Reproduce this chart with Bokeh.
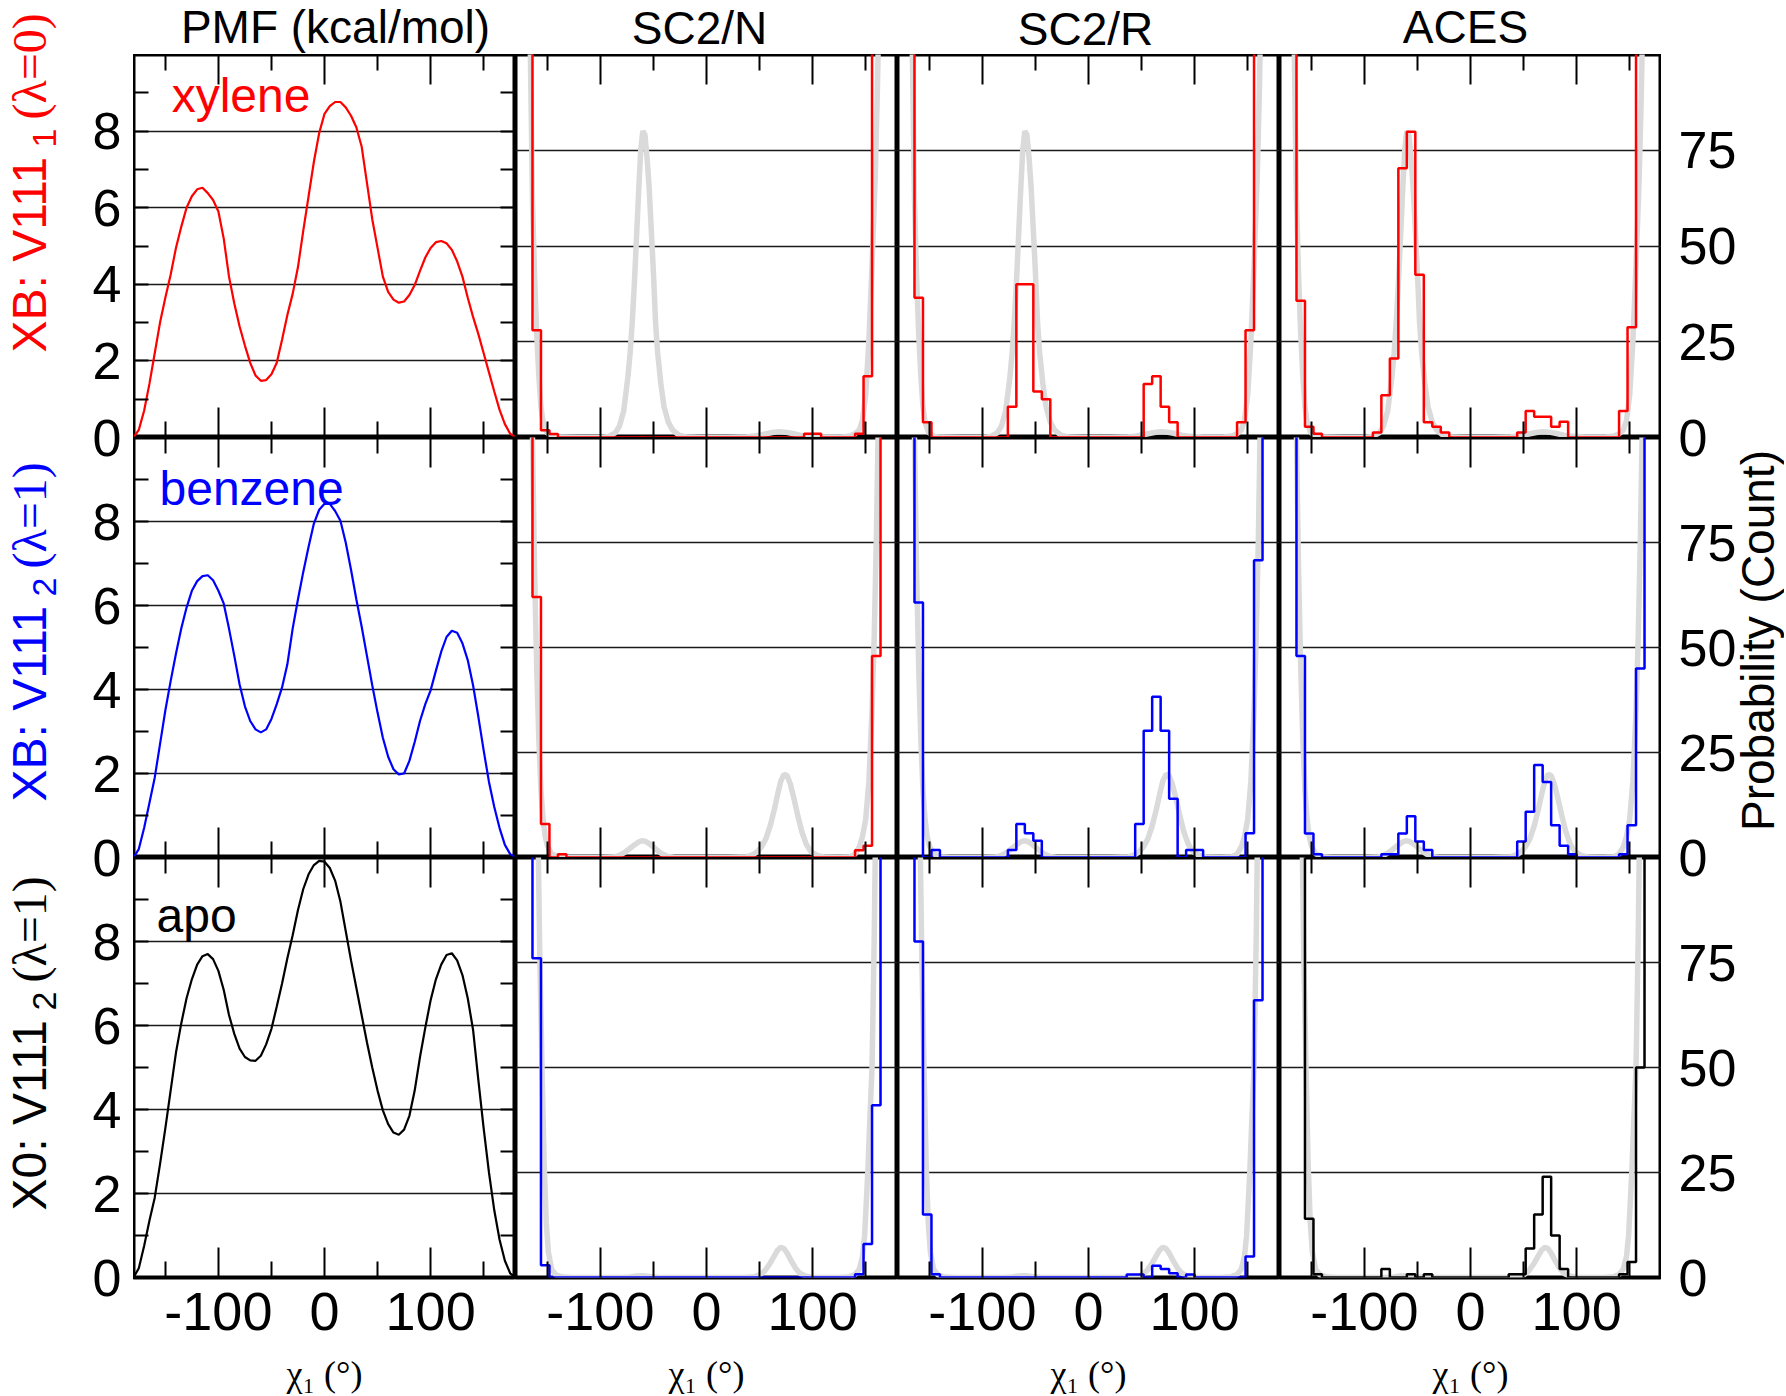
import math
from bokeh.plotting import figure
from bokeh.models import LinearAxis, FixedTicker, Grid, Label, Range1d
from bokeh.layouts import row, column
from bokeh.embed import file_html
from bokeh.resources import INLINE

# ---------------- data ----------------
chi_deg = list(range(-180, 181, 5))

pmf_xylene = [0.00, 0.20, 0.70, 1.40, 2.20, 3.00, 3.65, 4.25, 4.95, 5.50, 6.00, 6.30, 6.48,
              6.52, 6.38, 6.20, 5.90, 5.20, 4.20, 3.50, 2.90, 2.40, 1.95, 1.62, 1.48, 1.50,
              1.65, 1.95, 2.55, 3.20, 3.75, 4.45, 5.40, 6.30, 7.20, 7.95, 8.45, 8.65, 8.76,
              8.76, 8.62, 8.40, 8.10, 7.60, 6.65, 5.70, 4.95, 4.20, 3.80, 3.60, 3.52, 3.55,
              3.72, 3.98, 4.35, 4.70, 4.95, 5.10, 5.13, 5.07, 4.90, 4.60, 4.20, 3.65, 3.15,
              2.70, 2.20, 1.70, 1.20, 0.72, 0.35, 0.10, 0.00]
pmf_benzene = [0.00, 0.20, 0.70, 1.30, 1.90, 2.70, 3.50, 4.20, 4.85, 5.45, 5.95, 6.35, 6.58,
               6.70, 6.72, 6.60, 6.35, 6.05, 5.45, 4.80, 4.12, 3.60, 3.25, 3.05, 2.98, 3.05,
               3.30, 3.65, 4.05, 4.60, 5.45, 6.15, 6.80, 7.40, 7.95, 8.28, 8.42, 8.42, 8.25,
               8.02, 7.50, 6.85, 6.15, 5.50, 4.80, 4.10, 3.45, 2.85, 2.40, 2.10, 1.98, 2.00,
               2.30, 2.75, 3.25, 3.65, 3.98, 4.45, 4.90, 5.25, 5.40, 5.35, 5.10, 4.70, 4.10,
               3.35, 2.55, 1.80, 1.20, 0.70, 0.30, 0.08, 0.00]
pmf_apo = [0.00, 0.22, 0.75, 1.35, 1.90, 2.70, 3.55, 4.45, 5.35, 6.05, 6.65, 7.10, 7.45,
           7.65, 7.70, 7.58, 7.30, 6.85, 6.25, 5.80, 5.45, 5.25, 5.17, 5.16, 5.28, 5.55,
           5.92, 6.45, 7.00, 7.60, 8.15, 8.75, 9.25, 9.60, 9.82, 9.92, 9.90, 9.75, 9.45,
           8.95, 8.25, 7.55, 6.90, 6.25, 5.60, 5.00, 4.45, 3.98, 3.65, 3.45, 3.40, 3.52,
           3.85, 4.45, 5.25, 5.95, 6.60, 7.10, 7.45, 7.68, 7.72, 7.55, 7.20, 6.65, 5.90,
           4.70, 3.55, 2.50, 1.60, 0.90, 0.40, 0.10, 0.00]

# reference distributions (light grey curves), counts
ref1_x = [-180, -175, -171, -168, -166, -164, -162, -160, -158, -156, -154, -151, -147, -140,
          -120, -100, -92, -86, -82, -78, -74, -72, -70, -68, -66, -64, -62, -60, -58, -56,
          -54, -52, -50, -48, -46, -43, -40, -36, -32, -26, -18, -5, 20, 35, 45, 55, 62, 68,
          74, 80, 88, 96, 108, 125, 135, 140, 144, 147, 150, 153, 156, 159, 161, 163, 166,
          170, 175, 180]
ref1_y = [900, 600, 330, 160, 100, 62, 42, 27, 16, 8, 4, 1.5, 0.4, 0.1,
          0, 0, 0.3, 1.2, 3, 7, 16, 22, 30, 40, 52, 64, 75, 80, 79, 73,
          65, 54, 43, 30, 22, 14, 8, 4, 2, 0.6, 0.1, 0, 0, 0.1, 0.4, 0.9, 1.3, 1.5,
          1.4, 1.1, 0.6, 0.3, 0.1, 0.1, 0.4, 1, 2, 4.5, 11, 25, 45, 68, 90, 120, 200,
          350, 600, 900]
ref2_x = [-180, -175, -170, -166, -164, -162, -160, -158, -156, -154, -152, -150, -146, -140,
          -130, -100, -88, -82, -77, -72, -68, -64, -61, -58, -54, -50, -46, -42, -37, -30,
          20, 38, 44, 48, 52, 56, 60, 64, 67, 70, 73, 76, 79, 82, 86, 90, 94, 98, 104, 112,
          125, 135, 140, 144, 147, 150, 153, 156, 158, 160, 162, 166, 170, 180]
ref2_y = [540, 400, 250, 140, 100, 68, 45, 28, 16, 9, 5, 2.8, 0.9, 0.2,
          0, 0, 0.1, 0.5, 1.2, 2.2, 3.0, 3.7, 4.0, 3.9, 3.3, 2.5, 1.6, 0.9, 0.3, 0,
          0, 0.2, 0.7, 1.4, 2.6, 4.5, 7.5, 11.5, 15, 18.2, 19.8, 19.5, 17.5, 14.5, 10, 6, 3.2, 1.5, 0.5, 0.1,
          0.05, 0.2, 0.8, 2.5, 5, 9, 18, 35, 52, 75, 105, 190, 300, 540]
ref3_x = [-180, -170, -165, -162, -159, -157, -155, -153, -151, -149, -146, -142, -135, -125,
          -80, -72, -66, -60, -54, -46, -30, 35, 45, 50, 55, 60, 64, 67, 70, 73, 76, 80, 84,
          88, 93, 100, 115, 125, 135, 140, 144, 147, 149, 152, 154, 156, 158, 160, 165, 170, 180]
ref3_y = [2100, 700, 330, 200, 110, 75, 50, 27, 13, 6, 2, 0.6, 0.1, 0,
          0, 0.1, 0.35, 0.4, 0.25, 0.05, 0, 0, 0.2, 0.6, 1.6, 3.4, 5.2, 6.5, 7.2, 6.9, 5.8, 3.9, 2.2,
          1.0, 0.35, 0.05, 0, 0, 0.2, 0.7, 2, 5, 10, 25, 38, 50, 80, 120, 300, 700, 2100]

# histograms: 45 bins of 8 degrees from -180 (counts; end bins run off scale)
bin_edges = list(range(-180, 181, 8))

hist_sc2n_1 = [250, 160, 28, 1.9, 0.9, 0, 0, 0, 0,
               0, 0, 0, 0, 0, 0, 0, 0, 0,
               0, 0, 0, 0, 0, 0, 0, 0, 0,
               0, 0, 0, 0, 0, 0, 0, 1, 1,
               0, 0, 0, 0, 1, 16, 140, 220, 230]
hist_sc2r_1 = [230, 150, 36.5, 4, 0, 0, 0, 0, 0,
               0, 0, 0, 0, 8, 40, 40, 12, 10,
               0, 0, 0, 0, 0, 0, 0, 0, 0,
               0, 0, 14, 16, 8, 4, 0, 0, 0,
               0, 0, 0, 0, 4, 28, 130, 180, 200]
hist_aces_1 = [220, 150, 35.7, 2.8, 1, 0, 0, 0, 0,
               0, 0, 1.3, 11, 20.6, 70.3, 79.8, 42.5, 4,
               2.8, 1.3, 0, 0, 0, 0, 0, 0, 0,
               0, 1.3, 6.9, 5.4, 5.4, 2.8, 4.1, 0, 0,
               0, 0, 0, 0, 6.9, 28.8, 130, 170, 200]
hist_sc2n_2 = [260, 170, 62, 8, 0, 0.8, 0, 0, 0,
               0, 0, 0, 0, 0, 0, 0, 0, 0,
               0, 0, 0, 0, 0, 0, 0, 0, 0,
               0, 0, 0, 0, 0, 0, 0, 0, 0,
               0, 0, 0, 0, 1.7, 2.8, 48, 200, 240]
hist_sc2r_2 = [230, 160, 60.7, 0, 1.8, 0, 0, 0, 0,
               0, 0, 0, 0, 1.8, 8, 5.8, 4, 0,
               0, 0, 0, 0, 0, 0, 0, 0, 0,
               0, 8, 30.2, 38.3, 30.2, 14, 0, 1.8, 1.8,
               0, 0, 0, 0, 0, 5.8, 70.8, 170, 200]
hist_aces_2 = [230, 160, 48, 5.7, 0.8, 0, 0, 0, 0,
               0, 0, 0, 0.8, 0.8, 5.7, 9.8, 3.8, 1.8,
               0, 0, 0, 0, 0, 0, 0, 0, 0,
               0, 3.8, 10.9, 22, 18, 7.7, 2.8, 0.8, 0,
               0, 0, 0, 0, 0.8, 7.7, 45, 180, 220]
hist_sc2n_3 = [270, 170, 76, 2.9, 0, 0, 0, 0, 0,
               0, 0, 0, 0, 0, 0, 0, 0, 0,
               0, 0, 0, 0, 0, 0, 0, 0, 0,
               0, 0, 0, 0, 0, 0, 0, 0, 0,
               0, 0, 0, 0, 0.8, 8, 41, 200, 230]
hist_sc2r_3 = [240, 150, 80, 15, 0.8, 0, 0, 0, 0,
               0, 0, 0, 0, 0, 0, 0, 0, 0,
               0, 0, 0, 0, 0, 0, 0, 0, 0,
               0.7, 0.7, 0, 2.8, 2.0, 1.0, 0, 0.7, 0,
               0, 0, 0, 0, 0, 5, 66, 180, 220]
hist_aces_3 = [300, 200, 150, 14, 0.8, 0, 0, 0, 0,
               0, 0, 0, 2, 0, 0, 0.8, 0, 0.8,
               0, 0, 0, 0, 0, 0, 0, 0, 0,
               0.8, 0.8, 6.9, 15, 24, 10, 2, 0, 0,
               0, 0, 0, 0, 0.8, 3.7, 50, 200, 250]

col_titles = ["PMF (kcal/mol)", "SC2/N", "SC2/R", "ACES"]
row_names = ["xylene", "benzene", "apo"]
row_colors = ["red", "blue", "black"]
row_label_main = ["XB: V111", "XB: V111", "X0: V111"]
row_label_sub = ["1", "2", "2"]
row_label_state = ["(λ=0)", "(λ=1)", "(λ=1)"]
x_label_text = "χ₁ (°)"
right_label_text = "Probability (Count)"
x_tick_major = [-100, 0, 100]
x_tick_minor = [-150, -50, 50, 150]
pmf_ticks_major = [0, 2, 4, 6, 8]
pmf_ticks_minor = [1, 3, 5, 7, 9]
count_ticks = [0, 25, 50, 75]

pmf_rows = [pmf_xylene, pmf_benzene, pmf_apo]
ref_rows = [(ref1_x, ref1_y), (ref2_x, ref2_y), (ref3_x, ref3_y)]
hist_rows = [[hist_sc2n_1, hist_sc2r_1, hist_aces_1],
             [hist_sc2n_2, hist_sc2r_2, hist_aces_2],
             [hist_sc2n_3, hist_sc2r_3, hist_aces_3]]
hist_colors = [["red", "red", "red"],
               ["red", "blue", "blue"],
               ["blue", "blue", "black"]]

# ---------------- layout (page pixels) ----------------
PAGE_W, PAGE_H = 1784, 1394
LEFT_W = 133                       # first frame starts at page x = 133
FRAME_W = 382
RIGHT_W = PAGE_W - LEFT_W - 4 * FRAME_W
TOP_H = 54
FRAME_H = [383, 420, 420]
BOTTOM_B = 76
GRID_H = sum(FRAME_H) + BOTTOM_B
BOT_H = PAGE_H - TOP_H - GRID_H
MID_W = 4 * FRAME_W
SANS = "Liberation Sans"
SERIF = "Liberation Serif"
GRID_COLOR = "#1a1a1a"
REF_GREY = "#dadada"
MID = 0.34               # text box centre sits this many em above the baseline

row_tops = [TOP_H, TOP_H + FRAME_H[0], TOP_H + FRAME_H[0] + FRAME_H[1]]
row_bottoms = [t + h for t, h in zip(row_tops, FRAME_H)]

title_pos = [(335, 42), (699, 43), (1085, 44), (1465, 42)]      # centre x, baseline y
name_pos = [(-144, 8.50), (-155.5, 8.39), (-158.3, 8.23)]        # start x, baseline y (data)
row_label_start = [352, 801, 1210]                                # page y where text begins
row_label_base_x = 45
xlabel_centres = [324, 706, 1088, 1470]
xlabel_base_y = 1386
right_label_pos = (1773, 640)


def strip(w, h):
    p = figure(width=w, height=h, x_range=Range1d(0, w), y_range=Range1d(0, h),
               x_axis_location=None, y_axis_location=None, toolbar_location=None,
               output_backend="svg", min_border_left=0, min_border_right=0,
               min_border_top=0, min_border_bottom=0)
    p.grid.visible = False
    p.outline_line_color = None
    p.background_fill_color = "white"
    p.border_fill_color = "white"
    return p


def hidden_labels(ax):
    ax.major_label_text_font_size = "0px"
    ax.major_label_text_color = None
    ax.major_label_standoff = 0


def x_axis(show_labels):
    ax = LinearAxis(ticker=FixedTicker(ticks=x_tick_major, minor_ticks=x_tick_minor),
                    major_tick_in=30, major_tick_out=0, minor_tick_in=16, minor_tick_out=0,
                    major_tick_line_width=2, minor_tick_line_width=2,
                    major_tick_line_color="black", minor_tick_line_color="black",
                    axis_line_color=None)
    if show_labels:
        ax.major_label_text_font = SANS
        ax.major_label_text_font_size = "54px"
        ax.major_label_text_color = "black"
        ax.major_label_standoff = 15
        ax.major_label_overrides = {-100: "-100", 0: "0", 100: "100"}
    else:
        hidden_labels(ax)
    return ax


def pmf_y_ticks():
    ax = LinearAxis(ticker=FixedTicker(ticks=pmf_ticks_major, minor_ticks=pmf_ticks_minor),
                    major_tick_in=15, major_tick_out=0, minor_tick_in=15, minor_tick_out=0,
                    major_tick_line_width=2, minor_tick_line_width=2,
                    axis_line_color=None)
    hidden_labels(ax)
    return ax


def make_panel(r, c):
    ytop = 10 if c == 0 else 100
    h = FRAME_H[r] + (BOTTOM_B if r == 2 else 0)
    p = figure(width=FRAME_W, height=h, x_range=Range1d(-180, 180), y_range=Range1d(0, ytop),
               x_axis_location=None, y_axis_location=None, toolbar_location=None,
               output_backend="svg",
               min_border_left=0, min_border_right=0, min_border_top=0,
               min_border_bottom=BOTTOM_B if r == 2 else 0)
    p.grid.visible = False
    p.outline_line_color = "black"
    p.outline_line_width = 4
    p.background_fill_color = "white"
    p.border_fill_color = "white"

    gticks = [2, 4, 6, 8] if c == 0 else [25, 50, 75]
    p.add_layout(Grid(dimension=1, ticker=FixedTicker(ticks=gticks),
                      grid_line_color=GRID_COLOR, grid_line_width=1.6))

    p.add_layout(x_axis(r == 2), "below")
    p.add_layout(x_axis(False), "above")

    if c == 0:
        p.add_layout(pmf_y_ticks(), "left")
        p.add_layout(pmf_y_ticks(), "right")
        p.line(chi_deg, pmf_rows[r], line_color=row_colors[r], line_width=2.2)
        nx, ny = name_pos[r]
        px_per_unit = FRAME_H[r] / 10.0
        p.add_layout(Label(x=nx, y=ny + MID * 48 / px_per_unit, text=row_names[r],
                           text_color=row_colors[r],
                           text_font=SANS, text_font_size="48px",
                           text_align="left", text_baseline="middle"))
    else:
        rx, ry = ref_rows[r]
        p.line(rx, ry, line_color=REF_GREY, line_width=5.5)
        counts = hist_rows[r][c - 1]
        p.step(bin_edges, counts + [counts[-1]], mode="after",
               line_color=hist_colors[r][c - 1], line_width=2.5)
    return p


def row_range(r, ytop):
    """Range for a full-height strip so that 0..ytop lines up with panel row r."""
    pxu = FRAME_H[r] / ytop
    return Range1d(start=(row_bottoms[r] - PAGE_H) / pxu, end=row_bottoms[r] / pxu)


# ---- left strip (full page height): row labels + PMF tick labels ----
left = strip(LEFT_W, PAGE_H)
left.extra_y_ranges = {f"pmf{r}": row_range(r, 10) for r in range(3)}
for r in range(3):
    left.add_layout(LinearAxis(y_range_name=f"pmf{r}", fixed_location=LEFT_W,
                               ticker=FixedTicker(ticks=pmf_ticks_major),
                               major_tick_in=0, major_tick_out=0,
                               minor_tick_in=0, minor_tick_out=0, axis_line_color=None,
                               major_label_text_font=SANS, major_label_text_font_size="52px",
                               major_label_text_color="black", major_label_standoff=12),
                    "left")
MAIN_FS, SUB_FS = 48, 34
for r in range(3):
    main_w = 203 if r < 2 else 198
    y0 = PAGE_H - row_label_start[r]
    base = row_label_base_x
    left.add_layout(Label(x=base - MID * MAIN_FS, y=y0, angle=math.pi / 2,
                          text=row_label_main[r], text_color=row_colors[r],
                          text_font=SANS, text_font_size=f"{MAIN_FS}px",
                          text_align="left", text_baseline="middle"))
    left.add_layout(Label(x=base + 11 - MID * SUB_FS, y=y0 + main_w + 2, angle=math.pi / 2,
                          text=row_label_sub[r], text_color=row_colors[r],
                          text_font=SANS, text_font_size=f"{SUB_FS}px",
                          text_align="left", text_baseline="middle"))
    left.add_layout(Label(x=base - MID * MAIN_FS, y=y0 + main_w + 2 + 19 + 9, angle=math.pi / 2,
                          text=row_label_state[r], text_color=row_colors[r],
                          text_font=SERIF, text_font_size=f"{MAIN_FS}px",
                          text_align="left", text_baseline="middle"))

# ---- top strip: column titles ----
top = strip(MID_W, TOP_H)
for c in range(4):
    tx, ty = title_pos[c]
    top.add_layout(Label(x=tx - LEFT_W, y=TOP_H - (ty - MID * 46), text=col_titles[c],
                         text_color="black", text_font=SANS, text_font_size="46px",
                         text_align="center", text_baseline="middle"))

# ---- bottom strip: x axis titles ----
bottom_y0 = TOP_H + GRID_H
bottom = strip(MID_W, BOT_H)
for c in range(4):
    bottom.add_layout(Label(x=xlabel_centres[c] - LEFT_W,
                            y=BOT_H - (xlabel_base_y - MID * 36 - bottom_y0),
                            text=x_label_text, text_color="black",
                            text_font=SERIF, text_font_size="36px",
                            text_align="center", text_baseline="middle"))

# ---- right strip (full page height): count tick labels + axis title ----
right_x0 = LEFT_W + MID_W
right = strip(RIGHT_W, PAGE_H)
right.extra_y_ranges = {f"cnt{r}": row_range(r, 100) for r in range(3)}
for r in range(3):
    right.add_layout(LinearAxis(y_range_name=f"cnt{r}", fixed_location=0,
                                ticker=FixedTicker(ticks=count_ticks),
                                major_tick_in=0, major_tick_out=0,
                                minor_tick_in=0, minor_tick_out=0, axis_line_color=None,
                                major_label_text_font=SANS, major_label_text_font_size="52px",
                                major_label_text_color="black", major_label_standoff=17),
                     "right")
rx_, ry_ = right_label_pos
right.add_layout(Label(x=rx_ - MID * 46 - right_x0, y=PAGE_H - ry_, angle=math.pi / 2,
                       text=right_label_text, text_color="black",
                       text_font=SANS, text_font_size="46px",
                       text_align="center", text_baseline="middle"))

panel_rows = [row([make_panel(r, c) for c in range(4)], spacing=0) for r in range(3)]
grid_block = column(panel_rows, spacing=0)
middle = column([top, grid_block, bottom], spacing=0)
layout = row([left, middle, right], spacing=0)

open("out.html", "w").write(file_html(layout, INLINE))
